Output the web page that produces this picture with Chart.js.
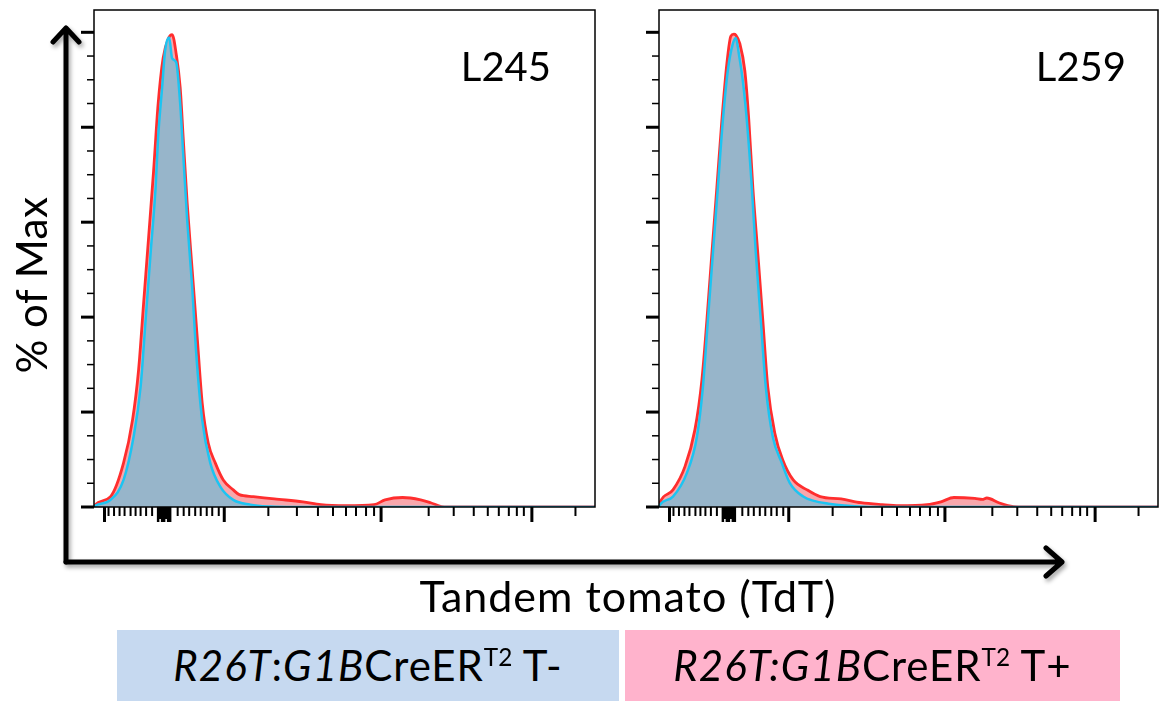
<!DOCTYPE html>
<html>
<head>
<meta charset="utf-8">
<script src="https://cdn.jsdelivr.net/npm/chart.js@4"></script>
<style>
  body { margin: 0; background: #fff; }
  #page { position: relative; width: 1160px; height: 701px; overflow: hidden; font-family: Lato, "Noto Sans", sans-serif; color: #000; }
  canvas { position: absolute; top: 0; }
  #c245 { left: 60px; }
  #c259 { left: 620px; }
  .txt { position: absolute; white-space: nowrap; font-size: 40px; line-height: 40px; }
  .panel { text-align: right; }
  #ylab { left: 31px; top: 285px; font-size: 42px; letter-spacing: 0.5px; transform: translate(-50%, -50%) rotate(-90deg); }
  #xlab { left: 628px; top: 576px; font-size: 43px; letter-spacing: 1px; transform: translateX(-50%); }
  .box { position: absolute; top: 630px; height: 71px; line-height: 71px; font-size: 42px; letter-spacing: 1px; text-align: center; white-space: nowrap; }
  .box sup { font-size: 0.58em; vertical-align: baseline; position: relative; top: -0.62em; letter-spacing: 0; }
  #arrows { position: absolute; left: 0; top: 0; filter: drop-shadow(2px 3px 2px rgba(0,0,0,0.35)); }
</style>
</head>
<body>
<div id="page">
  <canvas id="c245" width="545" height="540"></canvas>
  <canvas id="c259" width="540" height="540"></canvas>
  <svg id="arrows" width="1160" height="701">
    <g stroke="#000" stroke-width="5" fill="none" stroke-linecap="round" stroke-linejoin="round">
      <path d="M66 562 L66 28 M53 42 L66 28 L79 42"/>
      <path d="M66 562 L1062 562 M1046 548 L1062 562 L1046 576"/>
    </g>
  </svg>
  <div class="txt" id="ylab">% of Max</div>
  <div class="txt" id="xlab">Tandem tomato (TdT)</div>
  <div class="txt panel" style="left:400px; width:151px; top:46px;">L245</div>
  <div class="txt panel" style="left:975px; width:151px; top:46px;">L259</div>
  <div class="box" style="left:117px; width:502px; background:#c6d9f0;"><i>R26T</i>:<i>G1B</i>CreER<sup>T2</sup> T-</div>
  <div class="box" style="left:625px; width:495px; background:#ffb3cc;"><i>R26T:G1B</i>CreER<sup>T2</sup> T+</div>
</div>
<script>
// x in display channels (0-1000 across the plot), y in % of max
var l245NegX = [0, 3, 33, 59, 79, 93, 103, 113, 123, 128, 136, 142, 150, 156, 164, 172, 178, 186, 196, 204, 216, 232, 252, 278, 312, 352, 400, 1000]
var l245NegY = [0, 0.3, 1.5, 5.7, 14.8, 25.3, 39.4, 53.5, 67.4, 77.9, 88.4, 96.2, 98.9, 94.5, 93.7, 85.0, 74.5, 60.4, 46.3, 32.4, 18.3, 9.3, 4.3, 1.5, 0.5, 0.1, 0, 0]
var l245PosX = [0, 1, 33, 59, 77, 89, 99, 109, 119, 128, 138, 148, 156, 164, 172, 178, 186, 196, 206, 216, 228, 242, 258, 278, 290, 318, 360, 417, 453, 503, 559, 581, 616, 652, 672, 694, 720, 1000]
var l245PosY = [0, 0.3, 2.2, 9.3, 18.4, 28.9, 42.9, 56.8, 70.9, 84.9, 94.6, 98.6, 99.5, 95.5, 88.4, 77.9, 64.0, 49.9, 35.8, 21.9, 13.5, 9.3, 5.7, 3.6, 2.6, 2.2, 1.7, 1.1, 0.5, 0.3, 0.5, 1.5, 2.0, 1.5, 0.9, 0.1, 0, 0]

var l259NegX = [0, 2, 28, 56, 76, 88, 98, 108, 118, 128, 138, 148, 154, 160, 168, 176, 186, 194, 204, 214, 228, 246, 262, 289, 310, 340, 371, 420, 1000]
var l259NegY = [0, 0.5, 2.2, 7.2, 14.8, 25.3, 39.4, 53.5, 67.4, 81.5, 92.0, 97.6, 98.8, 95.5, 89.8, 81.5, 67.4, 53.5, 39.4, 25.3, 14.8, 9.3, 5.1, 2.2, 1.3, 0.7, 0.3, 0, 0]
var l259PosX = [0, 2, 28, 52, 72, 86, 96, 106, 116, 126, 136, 144, 150, 154, 162, 172, 180, 188, 198, 208, 218, 232, 248, 269, 297, 323, 365, 405, 447, 481, 537, 565, 591, 633, 648, 657, 681, 699, 720, 1000]
var l259PosY = [0, 0.9, 3.6, 8.5, 16.3, 26.8, 39.4, 53.5, 67.4, 81.5, 93.4, 99.2, 99.6, 99.4, 97.6, 91.9, 81.5, 67.4, 53.5, 39.4, 25.3, 15.6, 9.9, 5.7, 3.6, 2.2, 1.7, 0.9, 0.5, 0.3, 0.5, 1.1, 2.0, 1.8, 1.6, 1.9, 0.9, 0.3, 0, 0]

// axis ticks (biexponential display, in channels)
var yMajorTicks = [0, 20, 40, 60, 80, 100]
var yMinorTicks = [5, 10, 15, 25, 30, 35, 45, 50, 55, 65, 70, 75, 85, 90, 95]
var xMajorTicks = [21, 260, 573, 874]
var xZeroTicks = [128, 132, 136, 140, 144, 148, 152]
var xMinorTicks = [29, 40, 51, 61, 73, 83, 93, 104, 116, 167, 179, 190, 202, 213, 225, 236, 249,
                   348, 405, 447, 477, 503, 523, 543, 559, 668, 718, 758, 786, 808, 828, 844, 858, 961]

function pts(xs, ys) {
    return xs.map(function (v, i) { return {x: v, y: ys[i]} })
}

var fcsAxes = {
    id: 'fcsAxes',
    afterDraw: function (chart) {
        var ctx = chart.ctx
        var a = chart.chartArea
        var sx = chart.scales.x
        var sy = chart.scales.y
        function line(x0, y0, x1, y1, w) {
            ctx.lineWidth = w
            ctx.beginPath()
            ctx.moveTo(x0, y0)
            ctx.lineTo(x1, y1)
            ctx.stroke()
        }
        ctx.save()
        ctx.strokeStyle = '#000'
        ctx.lineWidth = 1.5
        ctx.strokeRect(a.left, a.top, a.right - a.left, a.bottom - a.top)
        yMajorTicks.forEach(function (v) {
            var p = sy.getPixelForValue(v)
            line(a.left - 13, p, a.left, p, 3)
        })
        yMinorTicks.forEach(function (v) {
            var p = sy.getPixelForValue(v)
            line(a.left - 7, p, a.left, p, 1.5)
        })
        xMajorTicks.forEach(function (v) {
            var p = sx.getPixelForValue(v)
            line(p, a.bottom, p, a.bottom + 15, 3)
        })
        xZeroTicks.forEach(function (v, i) {
            var p = sx.getPixelForValue(v)
            line(p, a.bottom, p, a.bottom + (i % 3 == 1 ? 12 : 15), 2.5)
        })
        xMinorTicks.forEach(function (v) {
            var p = sx.getPixelForValue(v)
            line(p, a.bottom, p, a.bottom + 9, 2)
        })
        ctx.restore()
    }
}

function makeChart(id, negX, negY, posX, posY, padding) {
    var ctx = document.getElementById(id)
    return new Chart(ctx, {
        type: 'line',
        data: {
            datasets: [{
                label: 'T-',
                data: pts(negX, negY),
                borderColor: '#1cc4f2',
                backgroundColor: '#97b5ca',
                borderWidth: 2.5,
                fill: 'origin'
            }, {
                label: 'T+',
                data: pts(posX, posY),
                borderColor: '#ff2e2e',
                backgroundColor: 'rgba(240,60,70,0.45)',
                borderWidth: 2.8,
                fill: 'origin'
            }]
        },
        options: {
            responsive: false,
            animation: false,
            layout: {padding: padding},
            elements: {
                point: {radius: 0},
                line: {cubicInterpolationMode: 'monotone'}
            },
            plugins: {
                legend: {display: false},
                tooltip: {enabled: false}
            },
            scales: {
                x: {type: 'linear', min: 0, max: 1000, display: false},
                y: {min: 0, max: 104.7, display: false}
            }
        },
        plugins: [fcsAxes]
    })
}

makeChart('c245', l245NegX, l245NegY, l245PosX, l245PosY, {left: 34, top: 10, right: 10, bottom: 33})
makeChart('c259', l259NegX, l259NegY, l259PosX, l259PosY, {left: 39, top: 10, right: 2, bottom: 33})
</script>
</body>
</html>
